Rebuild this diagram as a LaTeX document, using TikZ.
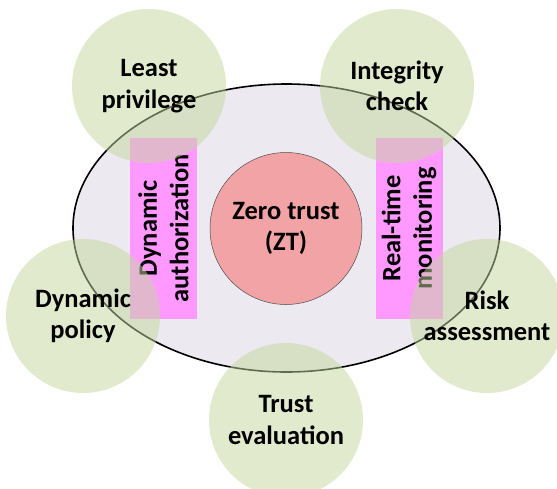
\documentclass[tikz,border=0pt]{standalone}
\usepackage{fontspec}
\setmainfont{Carlito}
\usetikzlibrary{shapes.geometric}
\definecolor{ellfill}{HTML}{ECE9F1}
\definecolor{ztfill}{HTML}{F2A3A6}
\definecolor{barfill}{HTML}{FF99FF}
\definecolor{leaf}{HTML}{C3D69B}
\tikzset{
  lbl/.style={font=\fontsize{26.5}{31.5}\selectfont\bfseries, align=center, text=black},
  leafnode/.style={circle, minimum size=154pt, inner sep=0pt, fill=leaf, fill opacity=0.5, text opacity=1, lbl},
  bar/.style={rectangle, rotate=90, minimum width=181pt, minimum height=67pt, inner sep=0pt, fill=barfill, lbl},
}
\begin{document}
\begin{tikzpicture}[x=1pt,y=-1pt]
\useasboundingbox (0,0) rectangle (557,488);
\clip (0,0) rectangle (557,488);
\node[ellipse, minimum width=427pt, minimum height=288pt, inner sep=0pt, draw=black, line width=1.6pt, fill=ellfill] (ell) at (286.5,228) {};
\node[circle, minimum size=152pt, inner sep=0pt, draw=black!70, line width=0.5pt, fill=ztfill, lbl] (zt) at (286,228.5) {Zero trust\\(ZT)};
\node[bar] (da) at (163.5,228.5) {Dynamic\\authorization};
\node[bar] (rm) at (409,228.5) {Real-time\\monitoring};
\node[leafnode] (lp) at (149,86) {Least\\privilege};
\node[leafnode] (ic) at (397,86) {Integrity\\check};
\node[leafnode] (dp) at (83,316) {Dynamic\\policy};
\node[leafnode] (ra) at (487,316) {Risk\\assessment};
\node[leafnode] (te) at (286,420) {Trust\\evaluation};
\end{tikzpicture}
\end{document}
